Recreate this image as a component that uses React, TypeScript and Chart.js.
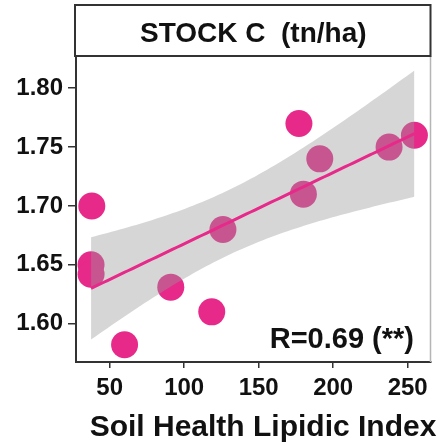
import React, { useEffect, useRef } from "react";
import { Chart, registerables } from "chart.js";

Chart.register(...registerables);

// Observations: soil health lipidic index vs. carbon stock
const lipidicIndex = [38, 37.5, 37.5, 60, 91, 118.5, 126, 177, 180, 191, 237.5, 254.5];
const stockC = [1.70, 1.65, 1.642, 1.582, 1.631, 1.61, 1.68, 1.77, 1.71, 1.74, 1.75, 1.76];

const xTicks = [50, 100, 150, 200, 250];
const yTicks = [1.60, 1.65, 1.70, 1.75, 1.80];

const panelTitle = "STOCK C  (tn/ha)";
const xTitle = "Soil Health Lipidic Index";
const corrLabel = "R=0.69 (**)";

const PINK = "#E7298A";
const FONT = '"Liberation Sans", Arial, Helvetica, sans-serif';

// Ordinary least squares fit with a 95% confidence band (df = n - 2 = 10)
function linearFit(xs: number[], ys: number[], steps: number) {
  const n = xs.length;
  const mx = xs.reduce((a, b) => a + b, 0) / n;
  const my = ys.reduce((a, b) => a + b, 0) / n;
  let sxx = 0, sxy = 0;
  for (let i = 0; i < n; i++) {
    sxx += (xs[i] - mx) ** 2;
    sxy += (xs[i] - mx) * (ys[i] - my);
  }
  const slope = sxy / sxx;
  const icpt = my - slope * mx;
  let sse = 0;
  for (let i = 0; i < n; i++) sse += (ys[i] - (icpt + slope * xs[i])) ** 2;
  const s = Math.sqrt(sse / (n - 2));
  const tCrit = 2.228;
  const x0 = Math.min(...xs), x1 = Math.max(...xs);
  const line: { x: number; y: number }[] = [];
  const lo: { x: number; y: number }[] = [];
  const hi: { x: number; y: number }[] = [];
  for (let k = 0; k < steps; k++) {
    const x = x0 + ((x1 - x0) * k) / (steps - 1);
    const yh = icpt + slope * x;
    const se = s * Math.sqrt(1 / n + (x - mx) ** 2 / sxx);
    line.push({ x, y: yh });
    lo.push({ x, y: yh - tCrit * se });
    hi.push({ x, y: yh + tCrit * se });
  }
  return { line, lo, hi };
}

const panelDecor = {
  id: "panelDecor",
  afterDraw(chart: any) {
    const { ctx, chartArea } = chart;
    const { left, right, top, bottom } = chartArea;
    ctx.save();
    // right panel edge
    ctx.strokeStyle = "#b5b5b5";
    ctx.lineWidth = 1.5;
    ctx.beginPath();
    ctx.moveTo(right, top);
    ctx.lineTo(right, bottom);
    ctx.stroke();
    // strip header
    ctx.strokeStyle = "#333333";
    ctx.lineWidth = 2;
    ctx.strokeRect(left - 1, 5, right - left + 1, top - 5);
    ctx.fillStyle = "#111111";
    ctx.textAlign = "center";
    ctx.textBaseline = "middle";
    ctx.font = `bold 28px ${FONT}`;
    ctx.fillText(panelTitle, (left + right) / 2, 34);
    // x axis title
    ctx.font = `bold 30px ${FONT}`;
    ctx.fillText(xTitle, 263, 428);
    // correlation label
    ctx.textAlign = "right";
    ctx.textBaseline = "alphabetic";
    ctx.font = `bold 29px ${FONT}`;
    ctx.fillText(corrLabel, 414, 348);
    ctx.restore();
  },
};

export default function App() {
  const ref = useRef<HTMLCanvasElement | null>(null);

  useEffect(() => {
    if (!ref.current) return;
    const fit = linearFit(lipidicIndex, stockC, 80);
    const points = lipidicIndex.map((x, i) => ({ x, y: stockC[i] }));
    const chart = new Chart(ref.current, {
      type: "scatter",
      data: {
        datasets: [
          {
            type: "scatter",
            data: points,
            backgroundColor: PINK,
            borderWidth: 0,
            pointRadius: 13.5,
            pointHoverRadius: 13.5,
            order: 2,
          },
          {
            type: "line",
            data: fit.lo,
            borderWidth: 0,
            borderColor: "transparent",
            pointRadius: 0,
            fill: false,
            order: 1,
          },
          {
            type: "line",
            data: fit.hi,
            borderWidth: 0,
            borderColor: "transparent",
            backgroundColor: "rgba(153,153,153,0.4)",
            pointRadius: 0,
            fill: "-1",
            order: 1,
          },
          {
            type: "line",
            data: fit.line,
            borderColor: PINK,
            borderWidth: 3,
            pointRadius: 0,
            fill: false,
            order: 0,
          },
        ] as any,
      },
      options: {
        responsive: false,
        animation: false,
        events: [],
        layout: { padding: { top: 56, right: 10, left: 0, bottom: 0 } },
        plugins: {
          legend: { display: false },
          tooltip: { enabled: false },
        },
        scales: {
          x: {
            type: "linear",
            position: "bottom",
            min: 27.4,
            max: 265.3,
            afterBuildTicks: (s: any) => {
              s.ticks = xTicks.map((v) => ({ value: v }));
            },
            afterFit: (s: any) => {
              s.height = 84;
            },
            grid: {
              drawOnChartArea: false,
              drawTicks: true,
              tickLength: 6,
              color: "#333333",
              lineWidth: 1.5,
            },
            border: { display: true, color: "#333333", width: 2 },
            ticks: {
              color: "#111111",
              padding: 6,
              maxRotation: 0,
              font: { family: FONT, size: 24, weight: "bold" },
            },
          },
          y: {
            type: "linear",
            min: 1.5674,
            max: 1.8274,
            afterBuildTicks: (s: any) => {
              s.ticks = yTicks.map((v) => ({ value: v }));
            },
            afterFit: (s: any) => {
              s.width = 76;
            },
            grid: {
              drawOnChartArea: false,
              drawTicks: true,
              tickLength: 8,
              color: "#333333",
              lineWidth: 1.5,
            },
            border: { display: true, color: "#333333", width: 2 },
            ticks: {
              color: "#111111",
              padding: 5,
              callback: (v: any) => Number(v).toFixed(2),
              font: { family: FONT, size: 24, weight: "bold" },
            },
          },
        },
      } as any,
      plugins: [panelDecor],
    });
    return () => chart.destroy();
  }, []);

  return (
    <div style={{ position: "absolute", left: 0, top: 0, width: 444, height: 446, background: "#ffffff" }}>
      <canvas ref={ref} width={444} height={446} />
    </div>
  );
}
